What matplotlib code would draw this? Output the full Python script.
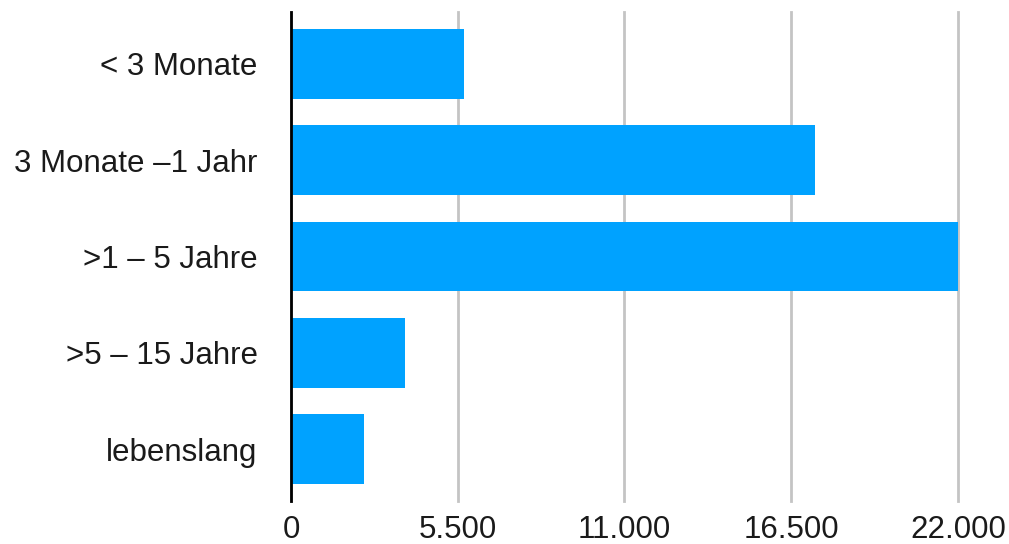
import matplotlib
matplotlib.use("Agg")
import matplotlib.pyplot as plt
from matplotlib.ticker import FuncFormatter

categories = ["< 3 Monate", "3 Monate \u20131 Jahr", ">1 \u2013 5 Jahre", ">5 \u2013 15 Jahre", "lebenslang"]
values = [5700, 17300, 22000, 3750, 2420]
x_ticks = [0, 5500, 11000, 16500, 22000]

plt.rcParams['font.family'] = ['Liberation Sans', 'DejaVu Sans']

fig = plt.figure(figsize=(10.09, 5.44), dpi=100)
ax = fig.add_axes([0.2884, 0.079, 0.661, 0.899])

pos = list(range(len(categories)))
ax.barh(pos, values, height=0.725, color="#00A2FF", zorder=2)

ax.set_xlim(0, 22000)
ax.set_ylim(len(categories) - 0.46, -0.54)
ax.set_yticks(pos)
ax.set_yticklabels(categories)
ax.set_xticks(x_ticks)
ax.xaxis.set_major_formatter(FuncFormatter(lambda v, p: f"{int(v):,}".replace(",", ".")))

ax.grid(axis="x", color="#c4c4c4", linewidth=2, zorder=0)
for gl in ax.get_xgridlines():
    gl.set_clip_on(False)
for s in ["top", "right", "bottom"]:
    ax.spines[s].set_visible(False)
ax.spines["left"].set_linewidth(2)
ax.spines["left"].set_color("black")
ax.spines["left"].set_zorder(3)

ax.tick_params(axis="y", length=0, pad=24, labelsize=22.5, labelcolor="#1a1a1a")
ax.tick_params(axis="x", length=0, pad=10, labelsize=22.5, labelcolor="#1a1a1a")

fig.savefig("out.png", dpi=100)
